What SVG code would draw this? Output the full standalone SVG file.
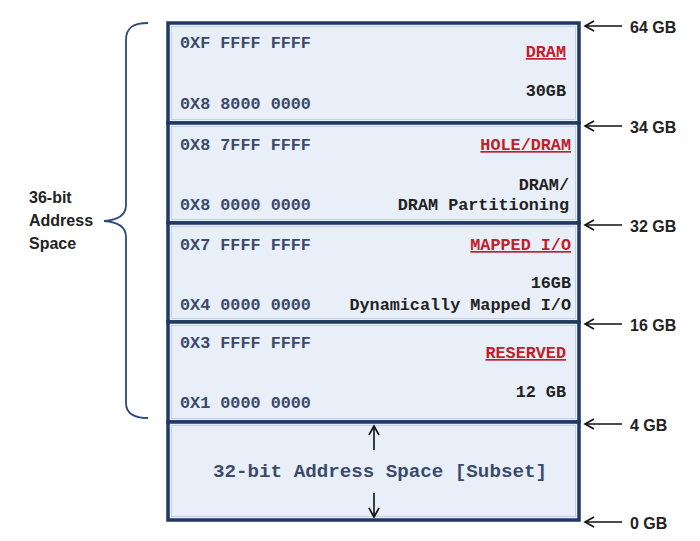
<svg xmlns="http://www.w3.org/2000/svg" width="700" height="541" viewBox="0 0 700 541">
<style>
.sec{fill:#e9eff9;stroke:#1f3864;stroke-width:3.5}
.inner{fill:none;stroke:#c3cfe6;stroke-width:1}
.addr{font-family:"Liberation Mono","Courier New",monospace;font-weight:bold;font-size:16.8px;fill:#3b4a6b}
.lbl{font-family:"Liberation Mono","Courier New",monospace;font-weight:bold;font-size:16.8px;fill:#c0202a;text-anchor:end;text-decoration:underline}
.desc{font-family:"Liberation Mono","Courier New",monospace;font-weight:bold;font-size:16.8px;fill:#222;text-anchor:end}
.big{font-family:"Liberation Mono","Courier New",monospace;font-weight:bold;font-size:19.2px;fill:#3b4a6b;text-anchor:middle}
.gb{font-family:"Liberation Sans",Arial,sans-serif;font-weight:bold;font-size:16px;fill:#222}
.side{font-family:"Liberation Sans",Arial,sans-serif;font-weight:bold;font-size:16px;fill:#222}
.conn{fill:none;stroke:#111;stroke-width:1.6}
</style>
<defs>
<marker id="ah" viewBox="-12 -7 14 14" markerWidth="14" markerHeight="14" refX="0" refY="0" orient="auto" markerUnits="userSpaceOnUse">
<path d="M-9,-5 L0,0 L-9,5" fill="none" stroke="#111" stroke-width="1.6"/>
</marker>
</defs>

<g id="sec-dram">
<rect class="sec" x="168" y="23" width="411" height="100"/>
<rect class="inner" x="171.5" y="26.5" width="404" height="93"/>
<text class="addr" x="180" y="48">0XF FFFF FFFF</text>
<text class="lbl" x="566" y="57">DRAM</text>
<text class="desc" x="566" y="96">30GB</text>
<text class="addr" x="180" y="109">0X8 8000 0000</text>
</g>

<g id="sec-hole">
<rect class="sec" x="168" y="123" width="411" height="100"/>
<rect class="inner" x="171.5" y="126.5" width="404" height="93"/>
<text class="addr" x="180" y="150">0X8 7FFF FFFF</text>
<text class="lbl" x="571" y="150">HOLE/DRAM</text>
<text class="desc" x="569" y="190">DRAM/</text>
<text class="desc" x="569" y="210">DRAM Partitioning</text>
<text class="addr" x="180" y="210">0X8 0000 0000</text>
</g>

<g id="sec-mmio">
<rect class="sec" x="168" y="223" width="411" height="99"/>
<rect class="inner" x="171.5" y="226.5" width="404" height="92"/>
<text class="addr" x="180" y="250">0X7 FFFF FFFF</text>
<text class="lbl" x="571" y="250">MAPPED I/O</text>
<text class="desc" x="571" y="288">16GB</text>
<text class="desc" x="571" y="310">Dynamically Mapped I/O</text>
<text class="addr" x="180" y="310">0X4 0000 0000</text>
</g>

<g id="sec-reserved">
<rect class="sec" x="168" y="322" width="411" height="100"/>
<rect class="inner" x="171.5" y="325.5" width="404" height="93"/>
<text class="addr" x="180" y="348">0X3 FFFF FFFF</text>
<text class="lbl" x="566" y="358">RESERVED</text>
<text class="desc" x="566" y="397">12 GB</text>
<text class="addr" x="180" y="408">0X1 0000 0000</text>
</g>

<g id="sec-32bit">
<rect class="sec" x="168" y="422" width="411" height="98"/>
<rect class="inner" x="171.5" y="425.5" width="404" height="91"/>
<text class="big" x="380" y="477">32-bit Address Space [Subset]</text>
</g>

<g id="brace-label">
<path d="M148,23 C134,23 126,27 126,40 L126,205 C126,215 118,220 104,221 C118,222 126,227 126,237 L126,403 C126,414 134,418 148,418" fill="none" stroke="#2f4a7a" stroke-width="1.8"/>
<text class="side" x="29" y="203">36-bit</text>
<text class="side" x="29" y="226">Address</text>
<text class="side" x="29" y="249">Space</text>
</g>

<g id="boundary-labels">
<text class="gb" x="630" y="33">64 GB</text>
<text class="gb" x="630" y="133">34 GB</text>
<text class="gb" x="630" y="232">32 GB</text>
<text class="gb" x="630" y="331">16 GB</text>
<text class="gb" x="630" y="431">4 GB</text>
<text class="gb" x="630" y="529">0 GB</text>
</g>

<g id="connectors">
<line class="conn" x1="622" y1="26" x2="585" y2="26" marker-end="url(#ah)"/>
<line class="conn" x1="622" y1="126" x2="585" y2="126" marker-end="url(#ah)"/>
<line class="conn" x1="622" y1="225" x2="585" y2="225" marker-end="url(#ah)"/>
<line class="conn" x1="622" y1="324" x2="585" y2="324" marker-end="url(#ah)"/>
<line class="conn" x1="622" y1="424" x2="585" y2="424" marker-end="url(#ah)"/>
<line class="conn" x1="622" y1="522" x2="585" y2="522" marker-end="url(#ah)"/>
<line class="conn" x1="374" y1="450" x2="374" y2="426" marker-end="url(#ah)"/>
<line class="conn" x1="374" y1="493" x2="374" y2="517" marker-end="url(#ah)"/>
</g>
</svg>
